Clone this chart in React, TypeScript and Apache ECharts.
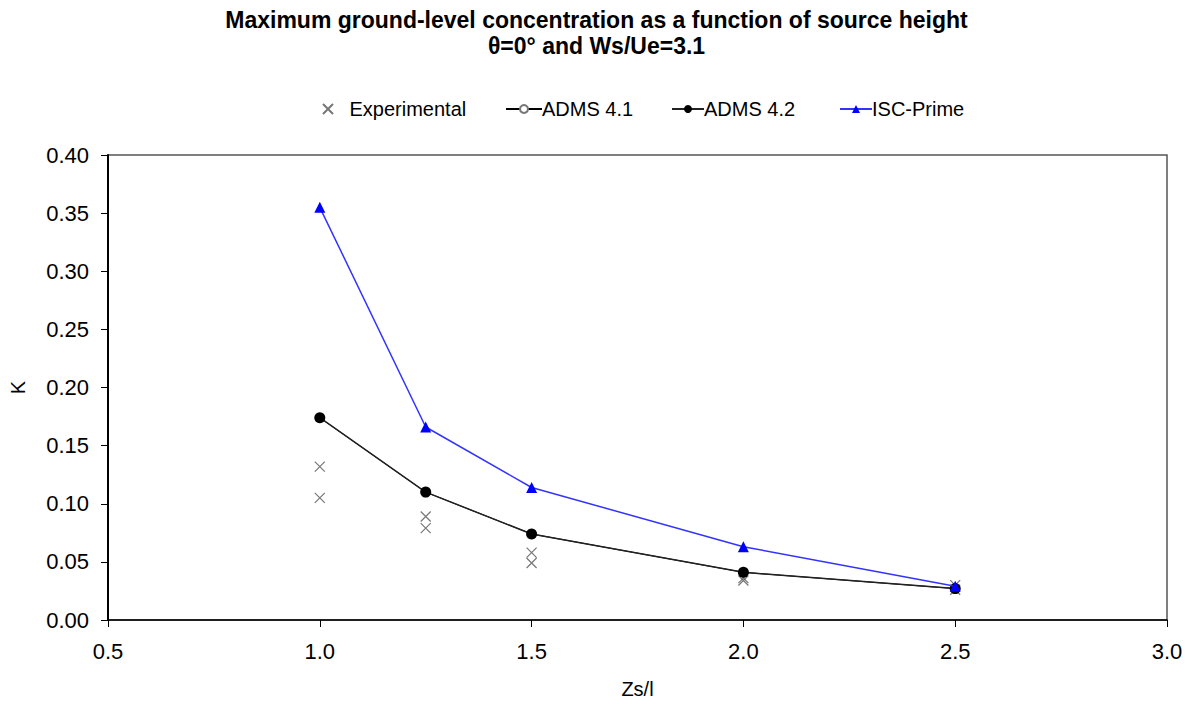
import React, { useEffect, useRef } from "react";
import * as echarts from "echarts";

const titleLines = ["Maximum ground-level concentration as a function of source height", "θ=0° and Ws/Ue=3.1"];
const legendNames = ["Experimental", "ADMS 4.1", "ADMS 4.2", "ISC-Prime"];
const expX = [1.0, 1.0, 1.25, 1.25, 1.5, 1.5, 2.0, 2.0, 2.5, 2.5];
const expY = [0.132, 0.105, 0.089, 0.079, 0.058, 0.049, 0.036, 0.034, 0.030, 0.026];
const modelX = [1.0, 1.25, 1.5, 2.0, 2.5];
const adms41 = [0.174, 0.110, 0.074, 0.041, 0.027];
const adms42 = [0.174, 0.110, 0.074, 0.041, 0.027];
const iscPrime = [0.355, 0.166, 0.114, 0.063, 0.029];

const FONT = "'Liberation Sans', Arial, sans-serif";
const CROSS = "path://M0,0L10,10M10,0L0,10";

export default function App() {
  const ref = useRef<HTMLDivElement>(null);
  useEffect(() => {
    if (!ref.current) return;
    const chart = echarts.init(ref.current, null, { renderer: "svg" });
    const pair = (xs: number[], ys: number[]) => xs.map((x, i) => [x, ys[i]]);
    const legendLefts = [317, 500, 666, 834];
    const legendWidths = [33, 36, 32, 32];
    chart.setOption({
      animation: false,
      backgroundColor: "#ffffff",
      textStyle: { fontFamily: FONT },
      title: {
        text: titleLines.join("\n"),
        left: "center",
        top: 2,
        textStyle: { fontFamily: FONT, fontSize: 23, fontWeight: "bold", color: "#000", lineHeight: 26 },
      },
      legend: legendNames.map((n, i) => ({
        top: 94,
        left: legendLefts[i],
        itemWidth: legendWidths[i],
        itemHeight: 10,
        textStyle: {
          fontFamily: FONT,
          fontSize: 20,
          color: "#000",
          padding: i === 0 ? [0, 0, 0, 0] : [0, 0, 0, -5],
        },
        data: [n],
      })),
      grid: { left: 108, right: 26, top: 155, bottom: 84, show: true, borderColor: "#555", borderWidth: 1.5 },
      xAxis: {
        type: "value",
        min: 0.5,
        max: 3.0,
        interval: 0.5,
        name: "Zs/l",
        nameLocation: "middle",
        nameGap: 59,
        nameTextStyle: { fontFamily: FONT, fontSize: 20, color: "#000" },
        axisLine: { show: true, onZero: false, lineStyle: { color: "#000", width: 1.5 } },
        axisTick: { show: true, inside: false, length: 7, lineStyle: { color: "#000" } },
        axisLabel: { fontFamily: FONT, fontSize: 22, color: "#000", margin: 20, formatter: (v: number) => v.toFixed(1) },
        splitLine: { show: false },
      },
      yAxis: {
        type: "value",
        min: 0,
        max: 0.4,
        interval: 0.05,
        name: "K",
        nameLocation: "middle",
        nameGap: 80,
        nameRotate: 90,
        nameTextStyle: { fontFamily: FONT, fontSize: 20, color: "#000" },
        axisLine: { show: true, lineStyle: { color: "#000", width: 2 } },
        axisTick: { show: true, inside: false, length: 7, lineStyle: { color: "#000" } },
        axisLabel: { fontFamily: FONT, fontSize: 22, color: "#000", margin: 19, formatter: (v: number) => v.toFixed(2) },
        splitLine: { show: false },
      },
      series: [
        {
          name: "Experimental",
          type: "scatter",
          data: pair(expX, expY),
          symbol: CROSS,
          symbolSize: 10,
          itemStyle: { color: "transparent", borderColor: "#555", borderWidth: 1.2 },
          z: 2,
        },
        {
          name: "ADMS 4.1",
          type: "line",
          data: pair(modelX, adms41),
          symbol: "emptyCircle",
          symbolSize: 7,
          lineStyle: { color: "#000", width: 1 },
          itemStyle: { color: "#777", borderWidth: 1 },
          z: 3,
        },
        {
          name: "ADMS 4.2",
          type: "line",
          data: pair(modelX, adms42),
          symbol: "circle",
          symbolSize: 11,
          lineStyle: { color: "#222", width: 1.5 },
          itemStyle: { color: "#000" },
          z: 4,
        },
        {
          name: "ISC-Prime",
          type: "line",
          data: pair(modelX, iscPrime),
          symbol: "triangle",
          symbolSize: 11,
          lineStyle: { color: "#3333ff", width: 1.5 },
          itemStyle: { color: "#0000ff" },
          z: 5,
        },
      ],
    });
    return () => chart.dispose();
  }, []);
  return <div ref={ref} style={{ position: "fixed", left: 0, top: 0, width: 1193, height: 704, background: "#fff" }} />;
}
